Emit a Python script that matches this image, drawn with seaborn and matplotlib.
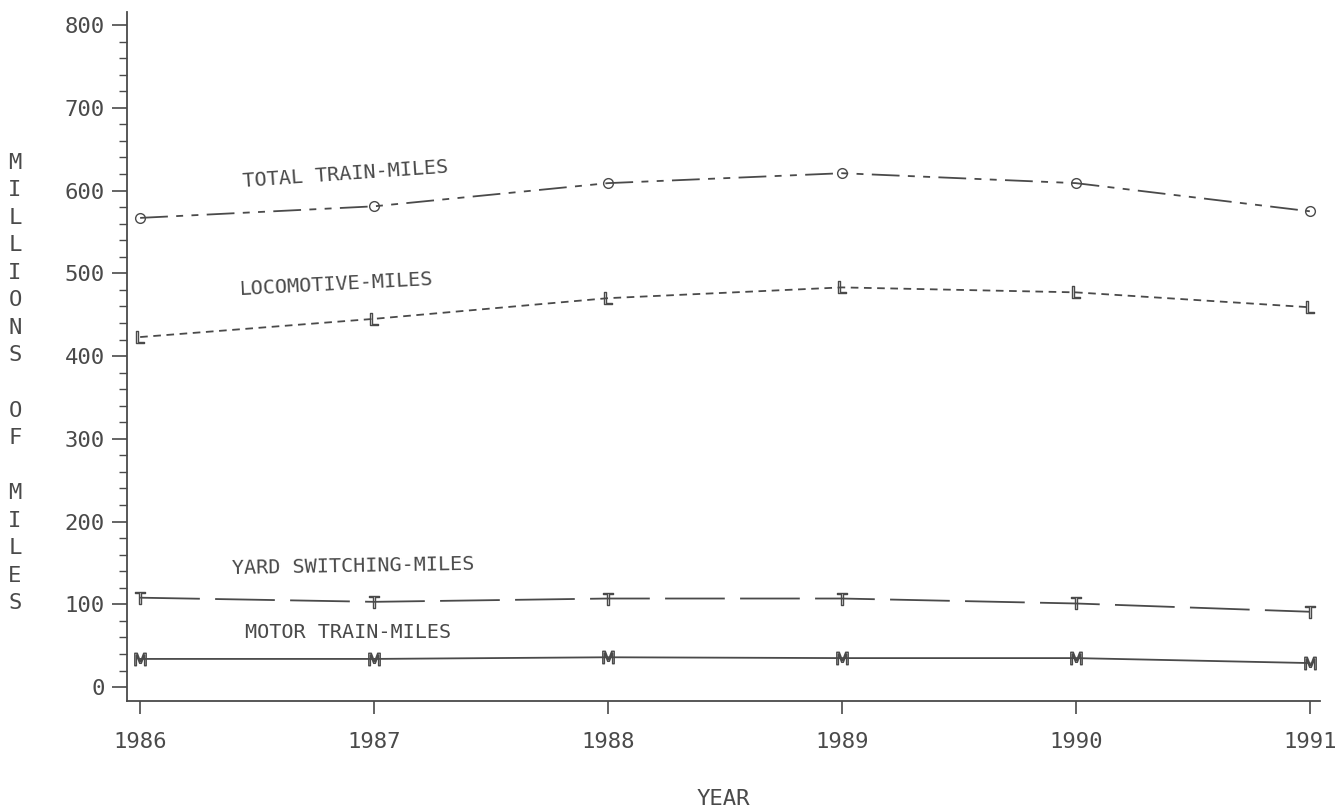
import matplotlib
matplotlib.use("Agg")
import matplotlib.pyplot as plt
import seaborn as sns
import pandas as pd
from matplotlib.ticker import MultipleLocator

years = [1986, 1987, 1988, 1989, 1990, 1991]
total_train = [567, 581, 609, 621, 609, 575]
locomotive = [423, 445, 470, 483, 477, 459]
yard_switching = [108, 103, 107, 107, 101, 91]
motor_train = [34, 34, 36, 35, 35, 29]

series_names = ["TOTAL TRAIN-MILES", "LOCOMOTIVE-MILES", "YARD SWITCHING-MILES", "MOTOR TRAIN-MILES"]
y_ticks = [0, 100, 200, 300, 400, 500, 600, 700, 800]

df = pd.DataFrame({
    "year": years * 4,
    "miles": total_train + locomotive + yard_switching + motor_train,
    "series": sum([[n] * len(years) for n in series_names], []),
})

sns.set_theme(style="white")
plt.rcParams["font.family"] = ["DejaVu Sans Mono", "DejaVu Sans"]
plt.rcParams["lines.scale_dashes"] = False

ink = "#4a4a4a"

fig = plt.figure(figsize=(13.4, 8.07), dpi=100)
ax = fig.add_axes([0.0948, 0.1313, 0.985 - 0.0948, 0.985 - 0.1313])

styles = {
    "TOTAL TRAIN-MILES": ((0, (20, 6, 5, 6, 5, 6)), "o", 7),
    "LOCOMOTIVE-MILES": ((0, (5.5, 4)), r"$\mathsf{L}$", 9),
    "YARD SWITCHING-MILES": ((0, (43, 11)), r"$\mathsf{T}$", 9),
    "MOTOR TRAIN-MILES": ("-", r"$\mathsf{M}$", 9),
}
for name in series_names:
    ls, mk, ms = styles[name]
    n_before = len(ax.lines)
    sns.lineplot(data=df[df["series"] == name], x="year", y="miles", color=ink,
                 linewidth=1.3, marker=mk, markersize=ms,
                 markerfacecolor="none", markeredgecolor=ink, markeredgewidth=1.0,
                 legend=False, ax=ax)
    for line in ax.lines[n_before:]:
        line.set_linestyle(ls)
        line.set_dash_capstyle("butt")

# labels placed next to each curve
label_pos = [(1986.876, 620, 4), (1986.84, 487, 3), (1986.91, 146, 1), (1986.89, 66, 0)]
for name, (lx, ly, rot) in zip(series_names, label_pos):
    ax.text(lx, ly, name, ha="center", va="center", fontsize=14.5, color=ink, rotation=rot)

ax.set_xlim(1985.944, 1991.043)
ax.set_ylim(-16.9, 815.7)
ax.set_xticks(years)
ax.set_yticks(y_ticks)
ax.yaxis.set_minor_locator(MultipleLocator(20))

for side in ["top", "right"]:
    ax.spines[side].set_visible(False)
for side in ["left", "bottom"]:
    ax.spines[side].set_color(ink)
    ax.spines[side].set_linewidth(1.3)

ax.tick_params(axis="y", which="major", direction="out", length=11, width=1.2,
               color=ink, labelcolor=ink, labelsize=16, pad=5, left=True)
ax.tick_params(axis="y", which="minor", direction="out", length=6, width=1.0,
               color=ink, left=True)
ax.tick_params(axis="x", which="major", direction="out", length=9, width=1.2,
               color=ink, labelcolor=ink, labelsize=16, pad=13, bottom=True)

ax.set_xlabel("YEAR", fontsize=16, color=ink, labelpad=27)
ax.set_ylabel("")
fig.text(15 / 1340, (807 - 383) / 807, "M\nI\nL\nL\nI\nO\nN\nS\n\nO\nF\n\nM\nI\nL\nE\nS",
         ha="center", va="center", fontsize=16, color=ink, linespacing=1.47)

fig.savefig("out.png", dpi=100)
